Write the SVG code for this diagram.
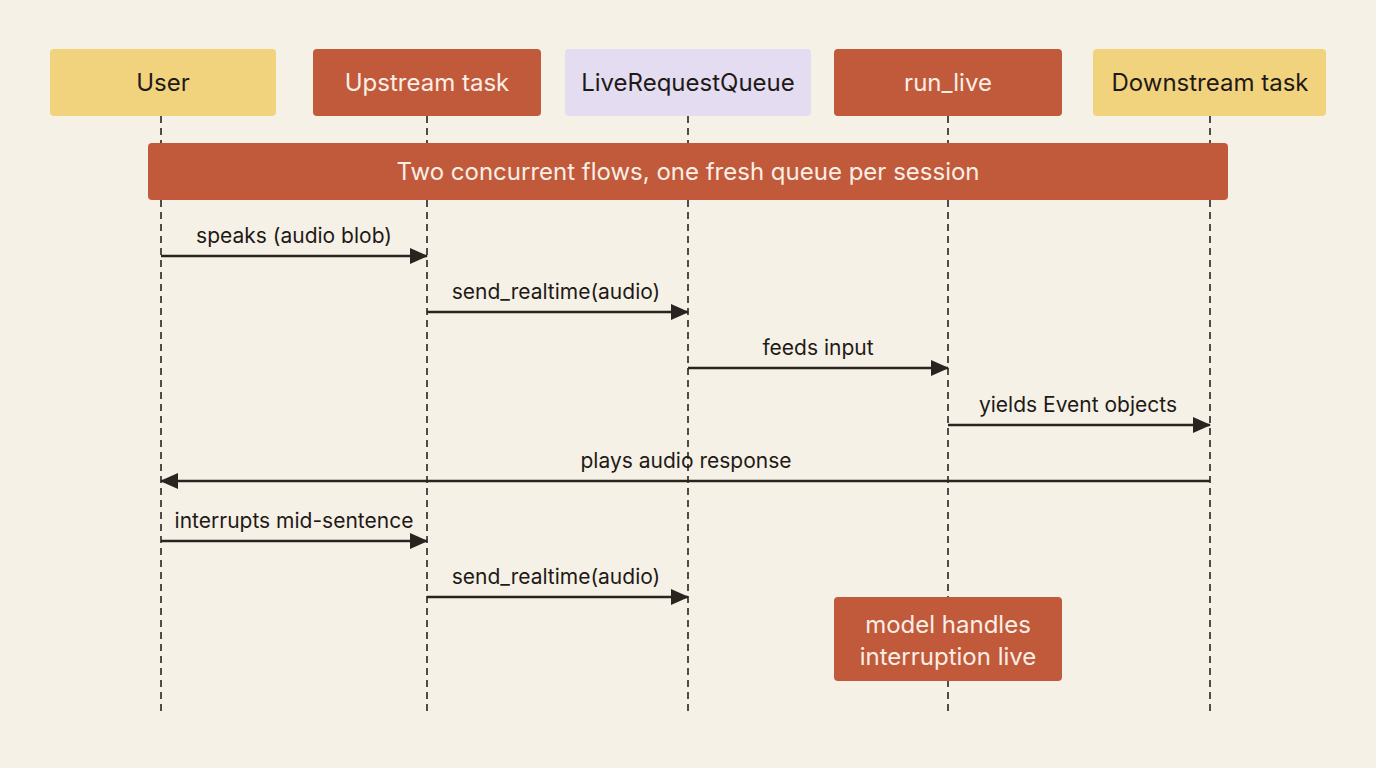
<svg xmlns="http://www.w3.org/2000/svg" width="1376" height="768" viewBox="0 0 1376 768">
<defs>
<style>
text{font-family:"Inter","Liberation Sans",sans-serif;text-anchor:middle}
.t{font-size:24px;fill:#1f1a17}
.w{font-size:24px;fill:#fbeee6}
.l{font-size:21px;fill:#1f1a17}
.life{stroke:#2a2420;stroke-width:1.6;stroke-dasharray:7 5}
.msg{stroke:#2a2420;stroke-width:2.6;fill:none}
</style>
<marker id="a" markerWidth="10" markerHeight="10" refX="9" refY="5" orient="auto" markerUnits="userSpaceOnUse" viewBox="0 0 10 10"><path d="M0,0 L10,5 L0,10 z" fill="#2a2420"/></marker>
<marker id="ah" markerWidth="18" markerHeight="16" refX="17" refY="8" orient="auto" markerUnits="userSpaceOnUse" viewBox="0 0 18 16"><path d="M0,0 L18,8 L0,16 z" fill="#2a2420"/></marker>
</defs>
<rect width="1376" height="768" fill="#f6f1e6"/>
<g id="lifelines">
<line class="life" x1="161" y1="116" x2="161" y2="716"/>
<line class="life" x1="427" y1="116" x2="427" y2="716"/>
<line class="life" x1="688" y1="116" x2="688" y2="716"/>
<line class="life" x1="948" y1="116" x2="948" y2="716"/>
<line class="life" x1="1210" y1="116" x2="1210" y2="716"/>
</g>
<g id="user"><rect x="50" y="49" width="226" height="67" rx="4" fill="#f1d37e"/><text class="t" x="163" y="91">User</text></g>
<g id="upstream"><rect x="313" y="49" width="228" height="67" rx="4" fill="#c15a3b"/><text class="w" x="427" y="91">Upstream task</text></g>
<g id="queue"><rect x="565" y="49" width="246" height="67" rx="4" fill="#e4dcf1"/><text class="t" x="688" y="91">LiveRequestQueue</text></g>
<g id="runlive"><rect x="834" y="49" width="228" height="67" rx="4" fill="#c15a3b"/><text class="w" x="948" y="91">run_live</text></g>
<g id="downstream"><rect x="1093" y="49" width="233" height="67" rx="4" fill="#f1d37e"/><text class="t" x="1210" y="91">Downstream task</text></g>
<g id="banner"><rect x="148" y="143" width="1080" height="57" rx="4" fill="#c15a3b"/><text class="w" x="688" y="180">Two concurrent flows, one fresh queue per session</text></g>
<g id="connectors">
<line class="msg" x1="161" y1="256" x2="427" y2="256" marker-end="url(#ah)"/>
<text class="l" x="294" y="243">speaks (audio blob)</text>
<line class="msg" x1="427" y1="312" x2="688" y2="312" marker-end="url(#ah)"/>
<text class="l" x="556" y="299">send_realtime(audio)</text>
<line class="msg" x1="688" y1="368" x2="948" y2="368" marker-end="url(#ah)"/>
<text class="l" x="818" y="355">feeds input</text>
<line class="msg" x1="948" y1="425" x2="1210" y2="425" marker-end="url(#ah)"/>
<text class="l" x="1078" y="412">yields Event objects</text>
<line class="msg" x1="1210" y1="481" x2="161" y2="481" marker-end="url(#ah)"/>
<text class="l" x="686" y="468">plays audio response</text>
<line class="msg" x1="161" y1="541" x2="427" y2="541" marker-end="url(#ah)"/>
<text class="l" x="294" y="528">interrupts mid-sentence</text>
<line class="msg" x1="427" y1="597" x2="688" y2="597" marker-end="url(#ah)"/>
<text class="l" x="556" y="584">send_realtime(audio)</text>
</g>
<g id="note"><rect x="834" y="597" width="228" height="84" rx="4" fill="#c15a3b"/><text class="w" x="948" y="633">model handles</text><text class="w" x="948" y="665">interruption live</text></g>
</svg>
